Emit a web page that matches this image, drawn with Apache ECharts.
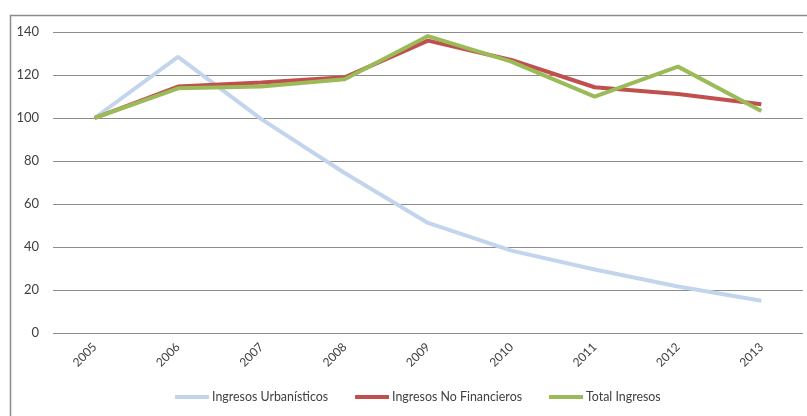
<!DOCTYPE html>
<html><head><meta charset="utf-8">
<script src="https://cdn.jsdelivr.net/npm/echarts@6/dist/echarts.min.js"></script>
<style>html,body{margin:0;padding:0;background:#fff}#c{width:807px;height:416px}</style>
</head><body><div id="c"></div>
<script>
const years = ['2005','2006','2007','2008','2009','2010','2011','2012','2013'];
const urbanisticos = [100, 128.4, 99.5, 74.4, 51.2, 38.3, 29.5, 21.6, 15.0];
const noFinancieros = [100, 114.6, 116.5, 118.9, 136.0, 127.0, 114.3, 111.2, 106.4];
const totalIngresos = [100, 113.8, 114.7, 118.0, 138.1, 126.2, 109.9, 123.9, 103.3];
const seriesNames = ['Ingresos Urbanísticos', 'Ingresos No Financieros', 'Total Ingresos'];
const colors = ['#c3d5ec', '#c0504d', '#9bbb59'];

const chart = echarts.init(document.getElementById('c'), null, {renderer: 'canvas'});
const font = 'Lato, "Open Sans", sans-serif';
const mk = (name, data, color) => ({
  name, type: 'line', data, symbol: 'none', smooth: false,
  lineStyle: {color, width: 4}, itemStyle: {color}
});
chart.setOption({
  animation: false,
  textStyle: {fontFamily: font},
  graphic: [{type: 'rect', left: 8, top: 13, shape: {width: 820, height: 420},
    style: {fill: 'none', stroke: '#8c8c8c', lineWidth: 1.5}, silent: true}],
  grid: {left: 53, right: 4, top: 32, bottom: 83, containLabel: false},
  legend: {
    bottom: 8, left: 170, itemWidth: 34, itemHeight: 4, itemGap: 27,
    icon: 'rect',
    textStyle: {fontFamily: font, fontSize: 12.4, color: '#404040', padding: [0,0,0,-2]},
    data: seriesNames
  },
  xAxis: {
    type: 'category', data: years, boundaryGap: true,
    axisLine: {show: false}, axisTick: {show: false},
    axisLabel: {rotate: 45, fontSize: 12, color: '#404040', margin: 12, fontFamily: font}
  },
  yAxis: {
    type: 'value', min: 0, max: 140, interval: 20,
    axisLine: {show: false}, axisTick: {show: false},
    axisLabel: {fontSize: 13, color: '#404040', margin: 14, fontFamily: font},
    splitLine: {lineStyle: {color: '#8c8c8c', width: 1}}
  },
  series: [
    mk(seriesNames[0], urbanisticos, colors[0]),
    mk(seriesNames[1], noFinancieros, colors[1]),
    mk(seriesNames[2], totalIngresos, colors[2])
  ]
});
</script></body></html>
